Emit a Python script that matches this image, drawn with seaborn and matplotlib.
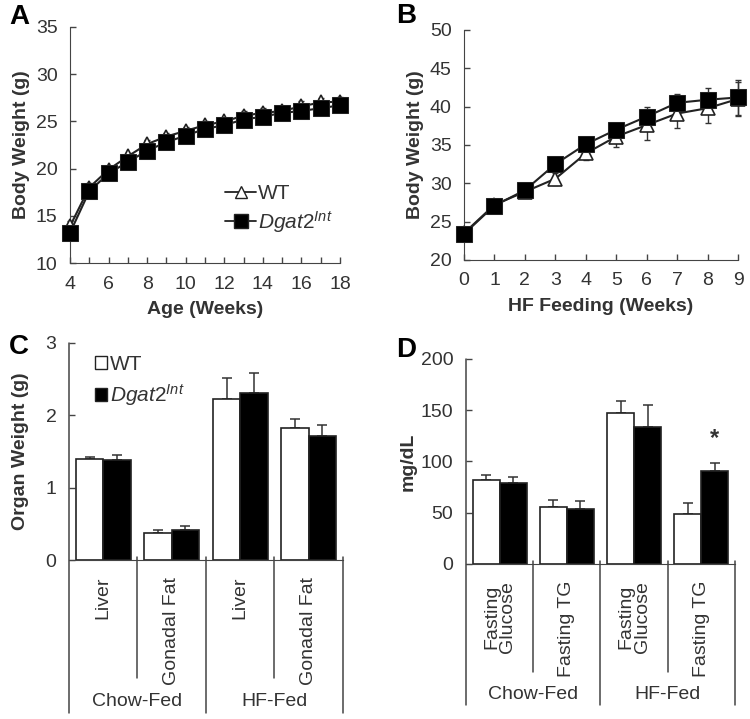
import numpy as np
import pandas as pd
import matplotlib
matplotlib.use("Agg")
import matplotlib.pyplot as plt
import seaborn as sns
from matplotlib.lines import Line2D
from matplotlib.patches import Patch

# Panel A: body weight vs age
age_weeks = [4, 5, 6, 7, 8, 9, 10, 11, 12, 13, 14, 15, 16, 17, 18]
wt_age = [13.9, 18.0, 19.9, 21.3, 22.6, 23.4, 24.0, 24.6, 25.0, 25.6, 25.9, 26.1, 26.6, 27.0, 27.1]
wt_age_err = [0.6, 0.5, 0.4, 0.4, 0.4, 0.4, 0.4, 0.4, 0.4, 0.5, 0.5, 0.5, 0.6, 0.5, 0.5]
ko_age = [13.2, 17.6, 19.5, 20.7, 21.9, 22.8, 23.5, 24.2, 24.6, 25.2, 25.5, 25.9, 26.1, 26.4, 26.7]
ko_age_err = [0.4, 0.4, 0.4, 0.4, 0.4, 0.4, 0.4, 0.4, 0.4, 0.4, 0.4, 0.4, 0.4, 0.4, 0.4]

# Panel B: body weight during HF feeding
hf_weeks = [0, 1, 2, 3, 4, 5, 6, 7, 8, 9]
wt_hf = [23.5, 27.2, 28.9, 30.6, 33.9, 36.1, 37.6, 39.1, 39.8, 41.0]
wt_hf_err = [0.5, 0.5, 0.6, 0.8, 0.9, 1.3, 1.9, 1.9, 1.9, 2.2]
ko_hf = [23.4, 27.1, 29.1, 32.5, 35.1, 37.0, 38.7, 40.5, 40.9, 41.2]
ko_hf_err = [0.4, 0.4, 0.5, 0.6, 0.6, 0.8, 1.2, 1.2, 1.5, 2.3]

# Panel C: organ weights
organs = ["Liver", "Gonadal Fat", "Liver", "Gonadal Fat"]
organ_diets = ["Chow-Fed", "Chow-Fed", "HF-Fed", "HF-Fed"]
wt_organ = [1.39, 0.38, 2.22, 1.82]
wt_organ_err = [0.04, 0.03, 0.29, 0.13]
ko_organ = [1.38, 0.41, 2.31, 1.72]
ko_organ_err = [0.07, 0.06, 0.28, 0.14]

# Panel D: fasting plasma values
assays = ["Fasting\nGlucose", "Fasting TG", "Fasting\nGlucose", "Fasting TG"]
assay_diets = ["Chow-Fed", "Chow-Fed", "HF-Fed", "HF-Fed"]
wt_assay = [81.8, 55.8, 147.7, 48.4]
wt_assay_err = [5.0, 7.0, 11.0, 11.5]
ko_assay = [79.2, 53.2, 133.8, 90.9]
ko_assay_err = [6.0, 8.0, 21.5, 8.0]

ko_label = r"$\mathit{Dgat2}^{\mathit{Int}}$"

sns.set_style("ticks")
plt.rcParams["font.family"] = ["Liberation Sans", "DejaVu Sans"]
plt.rcParams["mathtext.fontset"] = "custom"
plt.rcParams["mathtext.it"] = "Liberation Sans:italic"
plt.rcParams["mathtext.rm"] = "Liberation Sans"
txt = "#333333"
spine = "#444444"
plt.rcParams["text.color"] = txt
plt.rcParams["axes.labelcolor"] = txt
plt.rcParams["xtick.color"] = spine
plt.rcParams["ytick.color"] = spine
plt.rcParams["xtick.labelcolor"] = txt
plt.rcParams["ytick.labelcolor"] = txt
plt.rcParams["axes.edgecolor"] = spine

TICK = 14
LAB = 14
CAT = 14

fig = plt.figure(figsize=(7.5, 7.19), dpi=100)
axA = fig.add_axes([0.0933, 0.634, 0.360, 0.3286])
axB = fig.add_axes([0.6187, 0.6384, 0.3653, 0.3199])
axC = fig.add_axes([0.092, 0.2211, 0.3653, 0.3019])
axD = fig.add_axes([0.6213, 0.2156, 0.3587, 0.2851])


def line_panel(ax, x, wt, wt_err, ko, ko_err):
    df = pd.DataFrame({"x": x + x, "y": wt + ko,
                       "g": ["WT"] * len(x) + ["KO"] * len(x)})
    for ys, es in [(wt, wt_err), (ko, ko_err)]:
        eb = ax.errorbar(x, ys, yerr=es, fmt="none", ecolor="#333333",
                         elinewidth=1, capsize=2.5, zorder=1)
        for art in eb.lines[1] + eb.lines[2]:
            art.set_clip_on(False)
    sns.lineplot(data=df[df.g == "WT"], x="x", y="y", ax=ax, color="#222222",
                 marker="^", markersize=10, markerfacecolor="white",
                 markeredgecolor="#222222", markeredgewidth=1.2, lw=1.5, zorder=3,
                 clip_on=False)
    sns.lineplot(data=df[df.g == "KO"], x="x", y="y", ax=ax, color="#222222",
                 marker="s", markersize=11, markerfacecolor="black",
                 markeredgecolor="#222222", lw=1.5, zorder=4, clip_on=False)
    sns.despine(ax=ax)
    ax.tick_params(direction="in", length=4, width=1, labelsize=TICK, pad=9)


# A
line_panel(axA, age_weeks, wt_age, wt_age_err, ko_age, ko_age_err)
axA.set_xlim(4, 18)
axA.set_ylim(10, 35)
axA.set_xticks(range(4, 19, 2))
axA.set_xticks(range(5, 19, 2), minor=True)
axA.tick_params(which="minor", direction="in", length=4, width=1)
axA.set_yticks(range(10, 36, 5))
axA.set_xlabel("Age (Weeks)", fontsize=LAB, fontweight="bold", labelpad=6)
axA.set_ylabel("Body Weight (g)", fontsize=LAB, fontweight="bold", labelpad=4)
handles = [Line2D([], [], color="#222222", marker="^", markersize=9,
                  markerfacecolor="white", lw=1.3),
           Line2D([], [], color="#222222", marker="s", markersize=10,
                  markerfacecolor="black", lw=1.3)]
axA.legend(handles, ["WT", ko_label], loc="center left", bbox_to_anchor=(0.52, 0.227),
           frameon=False, fontsize=15, handlelength=1.5, handletextpad=0.1,
           labelspacing=0.25, borderpad=0.2)

# B
line_panel(axB, hf_weeks, wt_hf, wt_hf_err, ko_hf, ko_hf_err)
axB.set_xlim(0, 9)
axB.set_ylim(20, 50)
axB.set_xticks(range(0, 10))
axB.set_yticks(range(20, 51, 5))
axB.set_xlabel("HF Feeding (Weeks)", fontsize=LAB, fontweight="bold", labelpad=6)
axB.set_ylabel("Body Weight (g)", fontsize=LAB, fontweight="bold", labelpad=4)


def bar_panel(ax, cats, diets, wt, wt_err, ko, ko_err, inner_lo, outer_lo, grp_y):
    keys = [d + " " + c for d, c in zip(diets, cats)]
    df = pd.DataFrame({"cat": keys + keys, "val": wt + ko,
                       "g": ["WT"] * len(keys) + ["KO"] * len(keys)})
    sns.barplot(data=df, x="cat", y="val", hue="g", hue_order=["WT", "KO"],
                palette={"WT": "white", "KO": "black"}, edgecolor="#222222",
                linewidth=1.2, width=0.8, errorbar=None, legend=False, ax=ax,
                order=keys)
    for cont, err in zip(ax.containers, [wt_err, ko_err]):
        xs = [b.get_x() + b.get_width() / 2 for b in cont]
        ys = [b.get_height() for b in cont]
        ax.errorbar(xs, ys, yerr=[np.zeros(len(err)), err], fmt="none",
                    ecolor="#333333", elinewidth=1.1, capsize=3.5, capthick=1.1,
                    zorder=0)
    n = len(keys)
    ax.set_xlim(-0.5, n - 0.5)
    sns.despine(ax=ax)
    ax.spines["left"].set_visible(False)
    ax.tick_params(axis="y", direction="in", length=4, width=1, labelsize=TICK, pad=9)
    ax.set_xticks(range(n))
    ax.set_xticklabels(cats, rotation=90, fontsize=CAT, va="top", ha="center",
                       linespacing=0.95)
    ax.tick_params(axis="x", length=0, pad=12)
    trans = ax.get_xaxis_transform()
    for i in range(n + 1):
        xb = i - 0.5
        lo = outer_lo if i % 2 == 0 else inner_lo
        top = 1.0 if i == 0 else 0.015
        ax.plot([xb, xb], [top, lo], transform=trans, color=spine, lw=1.1,
                clip_on=False)
    for j in range(0, n, 2):
        ax.text(j + 0.5, grp_y, diets[j], transform=trans, ha="center",
                va="center", fontsize=CAT)
    ax.set_xlabel("")


# C
bar_panel(axC, organs, organ_diets, wt_organ, wt_organ_err, ko_organ, ko_organ_err,
          -0.544, -0.705, -0.654)
axC.set_ylim(0, 3)
axC.set_yticks([0, 1, 2, 3])
axC.set_ylabel("Organ Weight (g)", fontsize=LAB, fontweight="bold", labelpad=12)
axC.legend([Patch(facecolor="white", edgecolor="#222222"),
            Patch(facecolor="black", edgecolor="#222222")], ["WT", ko_label],
           loc="center left", bbox_to_anchor=(0.04, 0.823), frameon=False,
           fontsize=15, handlelength=0.6, handleheight=0.6, handletextpad=0.15,
           labelspacing=0.4, borderpad=0.2)

# D
bar_panel(axD, assays, assay_diets, wt_assay, wt_assay_err, ko_assay, ko_assay_err,
          -0.527, -0.688, -0.639)
axD.set_ylim(0, 200)
axD.set_yticks(range(0, 201, 50))
axD.set_ylabel("mg/dL", fontsize=LAB, fontweight="bold", labelpad=3)
star_bar = axD.containers[1][3]
axD.text(star_bar.get_x() + star_bar.get_width() / 2,
         star_bar.get_height() + ko_assay_err[3] + 12, "*", ha="center",
         va="bottom", fontsize=17, fontweight="bold")

# panel letters
for letter, (x, y) in zip("ABCD", [(0.012, 0.977), (0.528, 0.978),
                                    (0.012, 0.517), (0.528, 0.513)]):
    fig.text(x, y, letter, fontsize=20, fontweight="bold", color="black",
             ha="left", va="center")

fig.savefig("out.png", dpi=100)
